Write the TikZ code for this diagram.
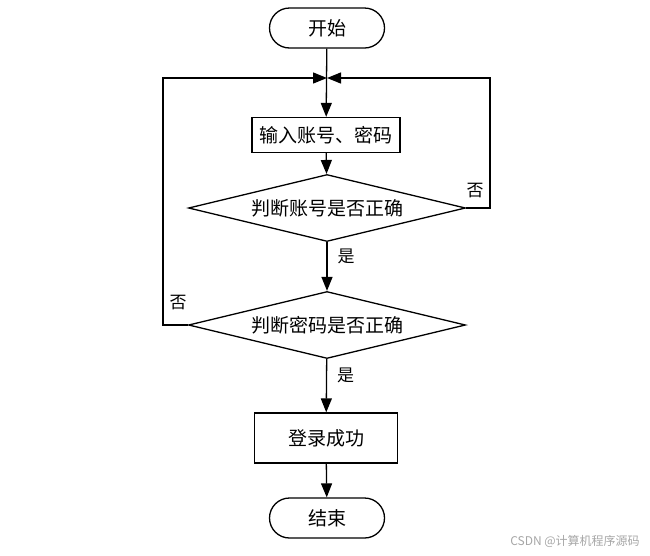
\documentclass[tikz,border=0pt]{standalone}
\usepackage{fontspec}
\setmainfont{Noto Sans CJK SC}
\usetikzlibrary{shapes.geometric,arrows.meta}
\tikzset{
  base/.style={draw=black, line width=1.3pt, inner sep=0pt, font=\fontsize{19}{22}\selectfont},
  term/.style={base, rectangle, rounded corners=20pt, minimum width=115pt, minimum height=40pt},
  proc/.style={base, rectangle},
  dec/.style={base, diamond, aspect=4.1, minimum width=277pt, minimum height=67pt},
  conn/.style={line width=1.3pt, -{Triangle[length=14pt,width=11pt]}},
  lab/.style={font=\fontsize{17}{19}\selectfont, inner sep=0pt}
}
\begin{document}
\begin{tikzpicture}[x=1pt,y=-1pt]
\useasboundingbox (0,0) rectangle (650,555);
\node[term] (start) at (327,28) {开始};
\coordinate (j) at (327,78);
\node[proc, minimum width=148pt, minimum height=35pt] (input) at (326,135) {输入账号、密码};
\node[dec] (d1) at (327,208) {判断账号是否正确};
\node[dec] (d2) at (327,325) {判断密码是否正确};
\node[proc, minimum width=143pt, minimum height=50pt] (ok) at (326,438) {登录成功};
\node[term] (end) at (327,518) {结束};
\coordinate (r) at (490,78);
\coordinate (l) at (163,78);

\draw[conn] (start) -- (input);
\draw[conn] (input) -- (d1);
\draw[conn] (d1) -- node[lab, right=10pt, pos=0.3] (y1) {是} (d2);
\draw[conn] (d2) -- node[lab, right=10pt, pos=0.3] (y2) {是} (ok);
\draw[conn] (ok) -- (end);
\draw[conn] (d1.east) -| (r) -- (j);
\draw[conn] (d2.west) -| (l) -- (j);
\node[lab] (n1) at (475,191) {否};
\node[lab] (n2) at (178,303) {否};
\node[font=\fontsize{12}{14}\selectfont, text=black!35, inner sep=0pt] (wm) at (575,541) {CSDN @计算机程序源码};
\end{tikzpicture}
\end{document}
